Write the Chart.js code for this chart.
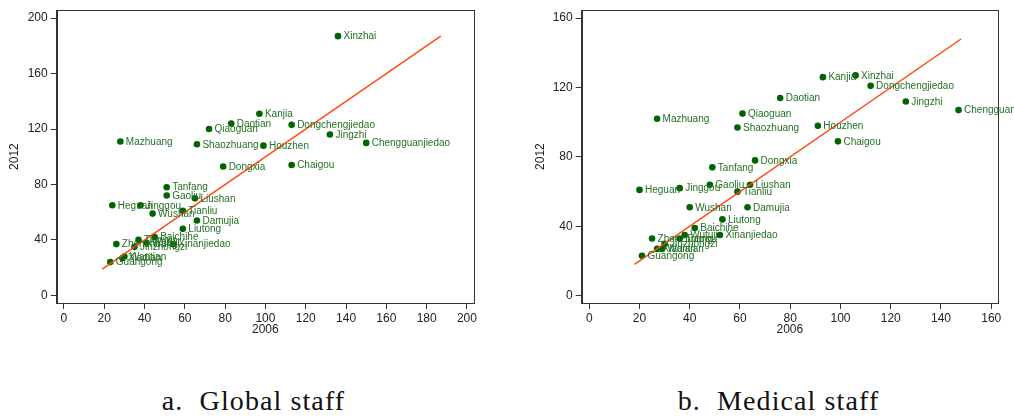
<!DOCTYPE html>
<html>
<head>
<meta charset="utf-8">
<script src="https://cdn.jsdelivr.net/npm/chart.js@4/dist/chart.umd.min.js"></script>
<style>
  html, body { margin: 0; padding: 0; background: #fff; width: 1014px; height: 419px; overflow: hidden; }
  #c1 { position: absolute; left: 0; top: 0; }
  #c2 { position: absolute; left: 507px; top: 0; }
  .cap { position: absolute; top: 385px; font-family: "Liberation Serif", "DejaVu Serif", serif; font-size: 28px; letter-spacing: 1.1px; color: #111; white-space: nowrap; transform: translateX(-50%); }
</style>
</head>
<body>
<canvas id="c1" width="500" height="345"></canvas>
<canvas id="c2" width="507" height="345"></canvas>
<div class="cap" style="left:253.5px">a.&nbsp; Global staff</div>
<div class="cap" style="left:778.5px">b.&nbsp; Medical staff</div>
<script>
// ---- data ----
const names = ["Xinzhai","Kanjia","Daotian","Dongchengjiedao","Qiaoguan","Jingzhi","Mazhuang","Shaozhuang","Houzhen","Chengguanjiedao",
  "Dongxia","Chaigou","Tanfang","Gaoliu","Liushan","Heguan","Jinggou","Wushan","Tianliu","Damujia",
  "Liutong","Baichihe","Wutuji","Xinanjiedao","Zhenzhuang","Tianwu","Jinzhongzi","Xiadian","Wantian","Guangong"];
const global2006 = [136,97,83,113,72,132,28,66,99,150, 79,113,51,51,65,24,38,44,59,66, 59,45,41,54,26,37,35,29,30,23];
const global2012 = [187,131,124,123,120,116,111,109,108,110, 93,94,78,72,70,65,65,59,61,54, 48,42,38,37,37,40,35,27,28,24];
const medical2006 = [106,93,76,112,61,126,27,59,91,147, 66,99,49,48,64,20,36,40,59,63, 53,42,38,52,25,36,30,27,29,21];
const medical2012 = [127,126,114,121,105,112,102,97,98,107, 78,89,74,64,64,61,62,51,60,51, 44,39,35,35,33,33,30,27,27,23];
const globalFitX = [19, 187];
const globalFitY = [19, 187];
const medicalFitX = [18, 148];
const medicalFitY = [18, 148];
const globalXTicks = [0,20,40,60,80,100,120,140,160,180,200];
const globalYTicks = [0,40,80,120,160,200];
const medicalXTicks = [0,20,40,60,80,100,120,140,160];
const medicalYTicks = [0,40,80,120,160];

// ---- styles ----
const FONT = '"Liberation Sans", Arial, Helvetica, sans-serif';
const AXIS = '#333333';
const TEXT = '#222222';
const POINT = '#006400';
const LABEL = '#237023';
const FIT = '#ff4a10';

const framePlugin = {
  id: 'frameAndLabels',
  afterDatasetsDraw(chart) {
    const ctx = chart.ctx;
    const meta = chart.getDatasetMeta(0);
    ctx.save();
    ctx.font = '10px ' + FONT;
    ctx.fillStyle = LABEL;
    ctx.textBaseline = 'middle';
    ctx.textAlign = 'left';
    meta.data.forEach((el, i) => {
      ctx.fillText(names[i], el.x + 5.5, el.y + 0.5);
    });
    const a = chart.chartArea;
    ctx.strokeStyle = AXIS;
    ctx.lineWidth = 1;
    ctx.strokeRect(Math.round(a.left) + 0.5, Math.round(a.top) + 0.5, Math.round(a.right - a.left), Math.round(a.bottom - a.top));
    ctx.restore();
  }
};

function makeChart(id, xs, ys, fx, fy, xTicks, yTicks, lim, geo) {
  const pts = xs.map((x, i) => ({x: x, y: ys[i]}));
  const fit = fx.map((x, i) => ({x: x, y: fy[i]}));
  return new Chart(document.getElementById(id), {
    type: 'scatter',
    data: {
      datasets: [
        { data: pts, backgroundColor: POINT, borderColor: POINT, pointRadius: 3.3, pointHoverRadius: 3.3, borderWidth: 0, order: 2 },
        { type: 'line', data: fit, borderColor: FIT, borderWidth: 1.5, pointRadius: 0, fill: false, showLine: true, order: 1 }
      ]
    },
    options: {
      responsive: false,
      animation: false,
      events: [],
      layout: { padding: { left: 0, right: geo.padRight, top: 6, bottom: 0 } },
      plugins: { legend: { display: false }, tooltip: { enabled: false } },
      scales: {
        x: {
          type: 'linear', min: lim.xmin, max: lim.xmax,
          afterBuildTicks: s => { s.ticks = xTicks.map(v => ({value: v})); },
          afterFit: s => { s.height = 42; },
          grid: { drawOnChartArea: false, drawTicks: true, tickLength: 6, color: AXIS, lineWidth: 1 },
          border: { display: true, color: AXIS, width: 1 },
          ticks: { color: TEXT, font: { family: FONT, size: 12 }, padding: 2, maxRotation: 0, autoSkip: false },
          title: { display: true, text: '2006', color: TEXT, font: { family: FONT, size: 12 }, padding: { top: 0, bottom: 8.2 } }
        },
        y: {
          type: 'linear', min: lim.ymin, max: lim.ymax,
          afterBuildTicks: s => { s.ticks = yTicks.map(v => ({value: v})); },
          afterFit: s => { s.width = geo.yWidth; },
          grid: { drawOnChartArea: false, drawTicks: true, tickLength: 6, color: AXIS, lineWidth: 1 },
          border: { display: true, color: AXIS, width: 1 },
          ticks: { color: TEXT, font: { family: FONT, size: 12 }, padding: 3, autoSkip: false },
          title: { display: true, text: '2012', color: TEXT, font: { family: FONT, size: 12 }, padding: { top: geo.titlePad, bottom: 0 } }
        }
      }
    },
    plugins: [framePlugin]
  });
}

makeChart('c1', global2006, global2012, globalFitX, globalFitY, globalXTicks, globalYTicks,
  { xmin: -3.6, xmax: 203.5, ymin: -5.5, ymax: 205.7 },
  { yWidth: 56.7, padRight: 26, titlePad: 7.2 });
makeChart('c2', medical2006, medical2012, medicalFitX, medicalFitY, medicalXTicks, medicalYTicks,
  { xmin: -3.0, xmax: 162.7, ymin: -4.2, ymax: 164.6 },
  { yWidth: 74.7, padRight: 16, titlePad: 26.2 });
</script>
</body>
</html>
